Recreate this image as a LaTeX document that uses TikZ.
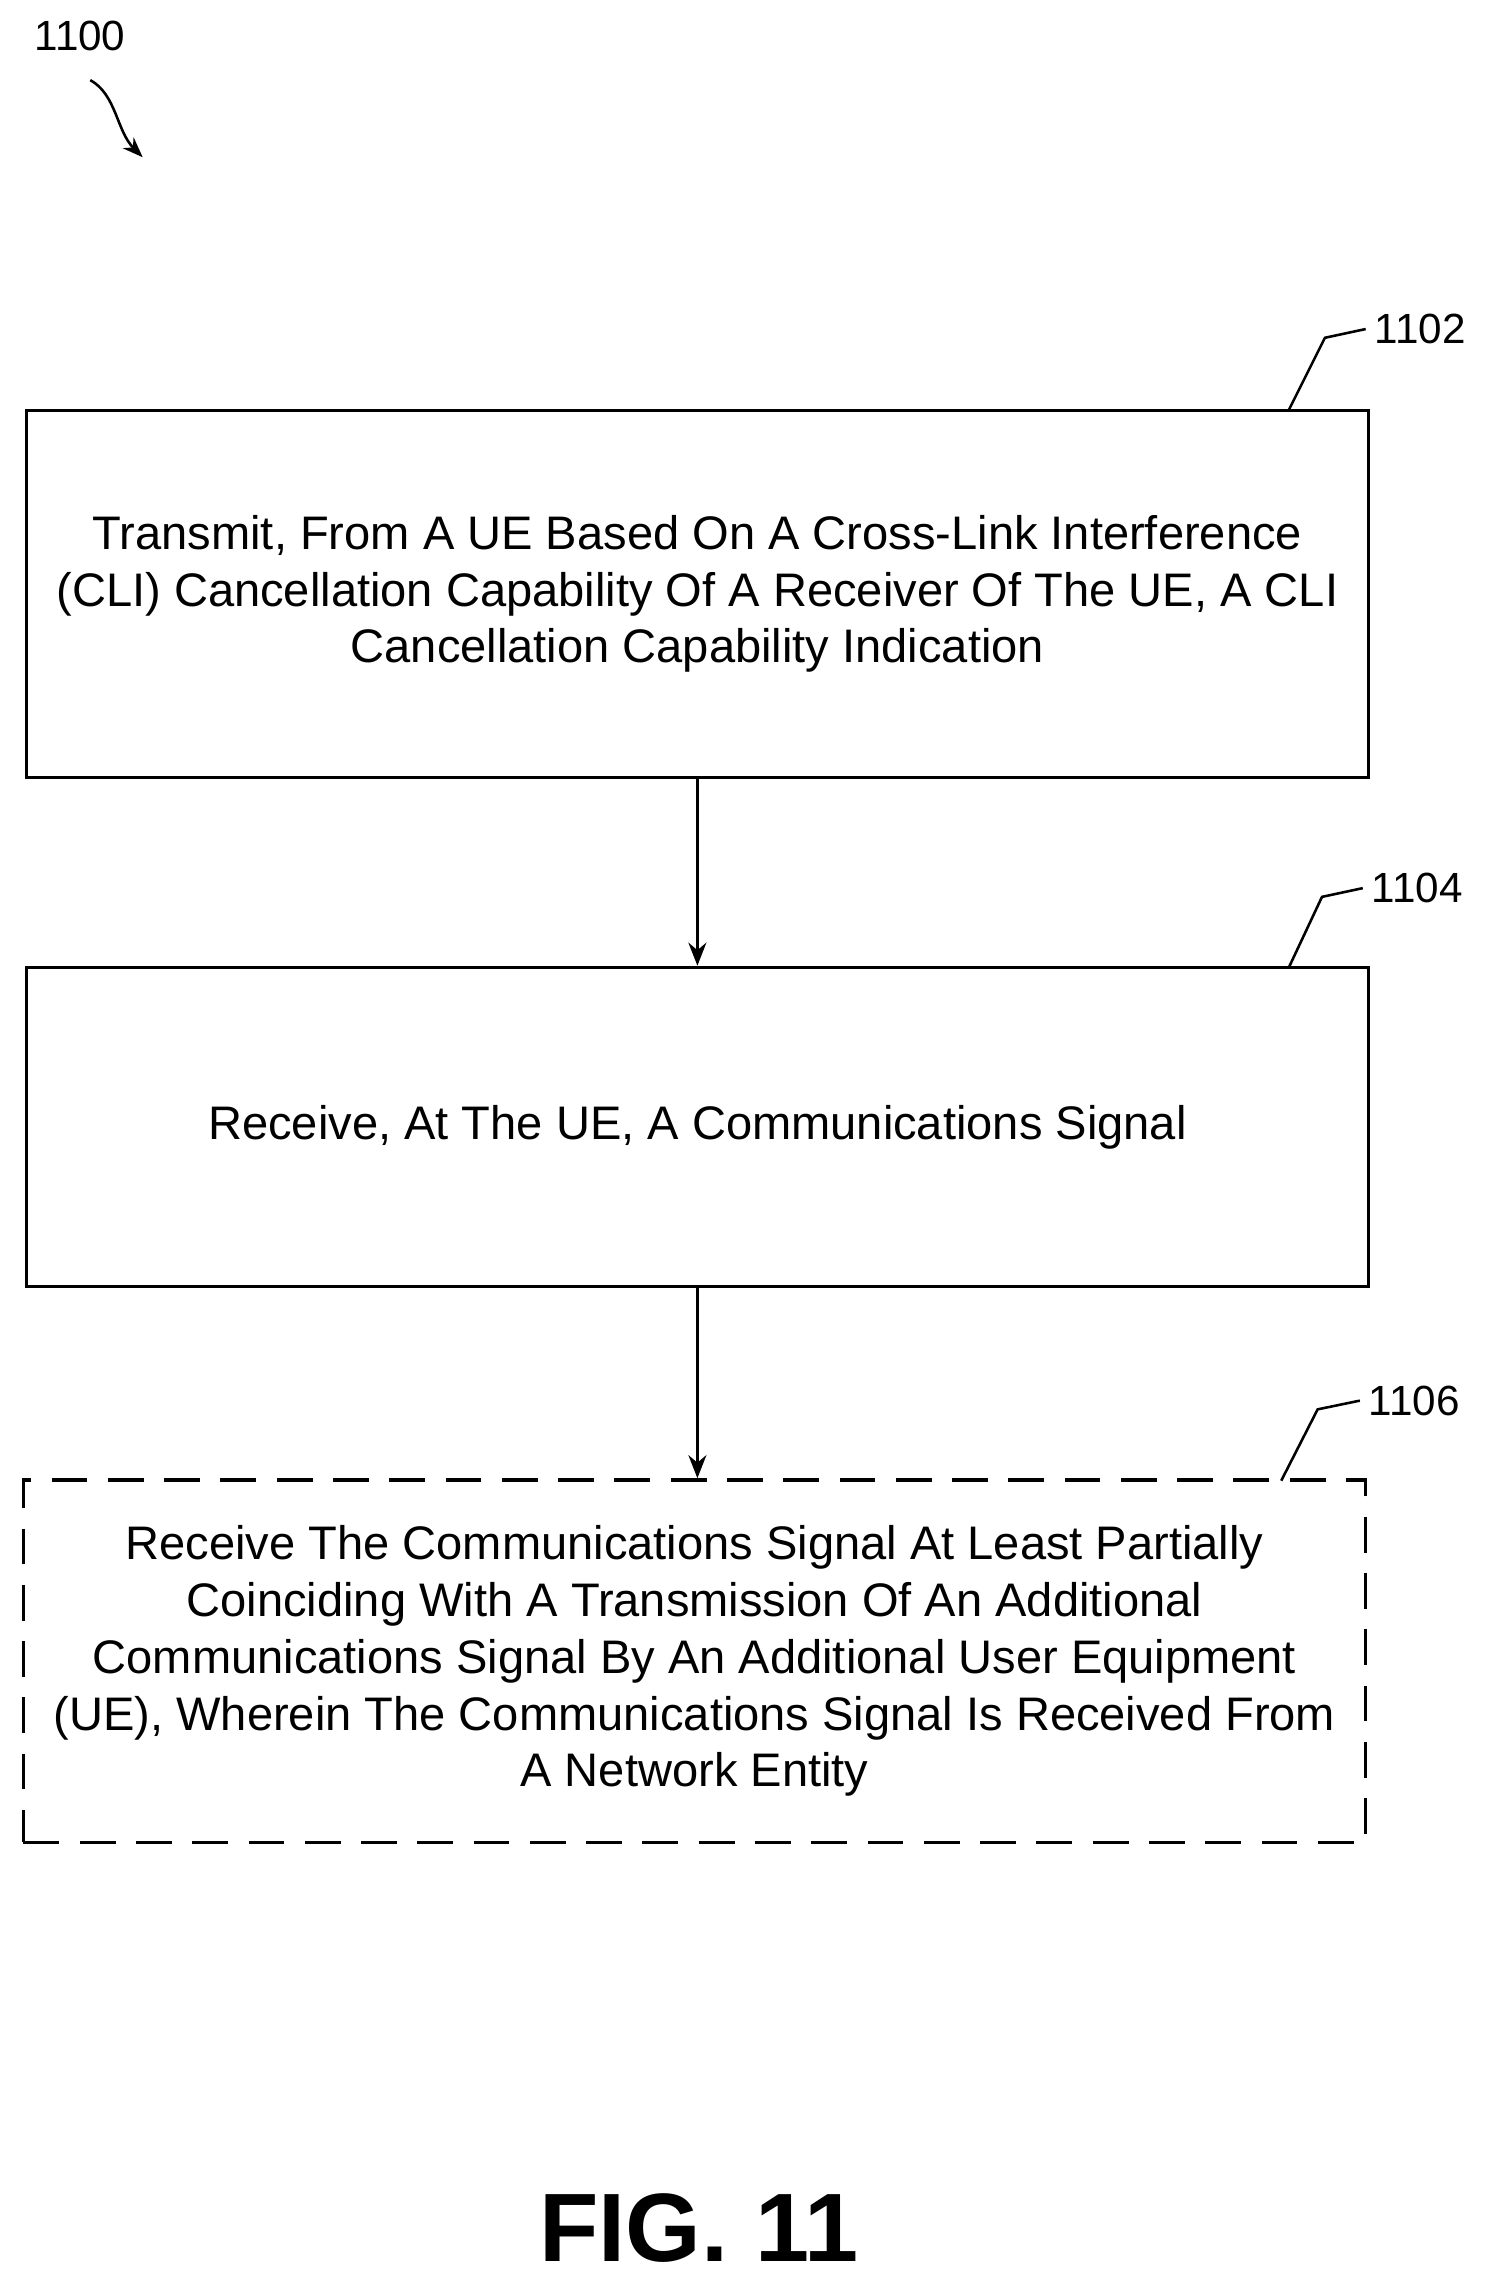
\documentclass[tikz,border=0pt]{standalone}
\usepackage{fontspec}
\setmainfont{Liberation Sans}
\usetikzlibrary{positioning,arrows.meta}

\begin{document}
\begin{tikzpicture}[x=0.02cm,y=-0.02cm,
    every step/.style={draw, line width=1.4pt, minimum width=18.44cm, align=center,
        font=\fontsize{18.4}{22.2}\selectfont},
    lbl/.style={font=\fontsize{16.5}{19}\selectfont, anchor=west},
    flow/.style={line width=1.2pt, -{Stealth[length=9pt,width=7pt]}}
    ]
    \useasboundingbox (0,0) rectangle (1024,1566);

    %% Figure number
    \node[font=\fontsize{16.5}{19}\selectfont] (fig) at (55,25) {1100};
    \coordinate (figtip) at (98,108);
    \draw[line width=1pt, -{Stealth[length=8pt]}] (62,55) .. controls (80,65) and (80,90) .. (figtip);

    %% Steps
    \node[every step, minimum height=5.04cm] (s1) at (479,408)
        {Transmit, From A UE Based On A Cross-Link Interference\\
         (CLI) Cancellation Capability Of A Receiver Of The UE, A CLI\\
         Cancellation Capability Indication};
    \node[every step, minimum height=4.38cm] (s2) at (479,774)
        {Receive, At The UE, A Communications Signal};
    \node[every step, dashed, dash pattern=on 14pt off 8pt, minimum height=4.98cm] (s3) at (477,1141)
        {Receive The Communications Signal At Least Partially\\
         Coinciding With A Transmission Of An Additional\\
         Communications Signal By An Additional User Equipment\\
         (UE), Wherein The Communications Signal Is Received From\\
         A Network Entity};

    \draw[flow] (s1) -- (s2);
    \draw[flow] (s2.south) -- (s2.south |- s3.north);

    %% Reference numerals
    \node[lbl] (n1) at (938,226) {1102};
    \draw[line width=1pt] (885,282) -- (910,232) -- (n1.west);
    \node[lbl] (n2) at (936,610) {1104};
    \draw[line width=1pt] (885,665) -- (908,616) -- (n2.west);
    \node[lbl] (n3) at (934,962) {1106};
    \draw[line width=1pt] (880,1017) -- (905,968) -- (n3.west);

    \node[font=\bfseries\fontsize{38}{44}\selectfont] (title) at (480,1530) {FIG. 11};
\end{tikzpicture}
\end{document}
